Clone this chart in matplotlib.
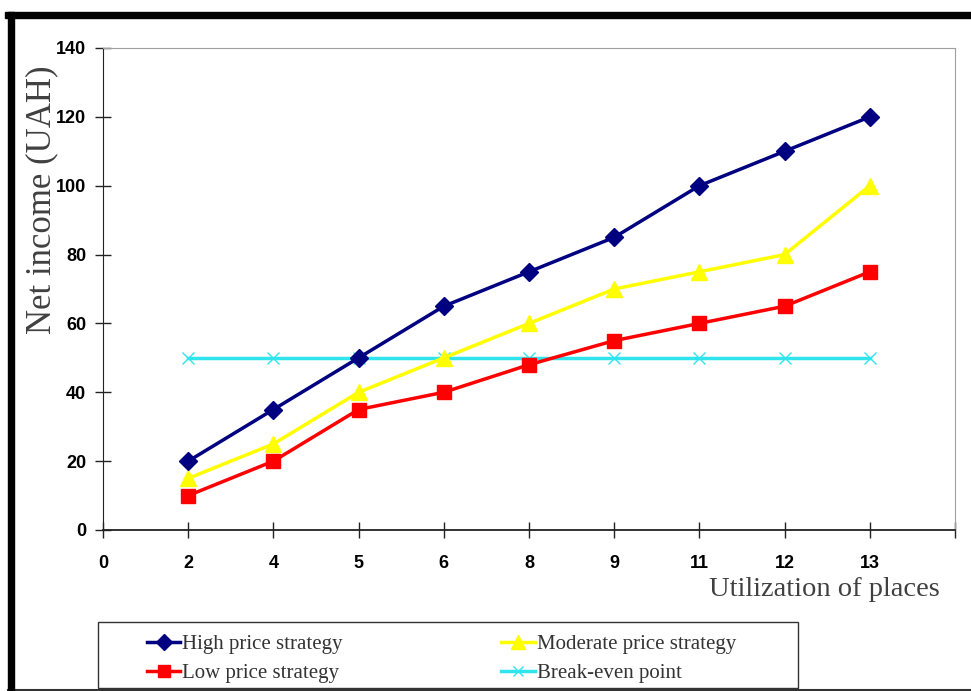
import numpy as np
import matplotlib
matplotlib.use("Agg")
import matplotlib.pyplot as plt
from matplotlib.lines import Line2D
from matplotlib.patches import Rectangle

# categories on the x axis (equally spaced, last slot empty)
x_labels = ["0", "2", "4", "5", "6", "8", "9", "11", "12", "13", ""]
places = ["2", "4", "5", "6", "8", "9", "11", "12", "13"]

high_price = [20, 35, 50, 65, 75, 85, 100, 110, 120]
moderate_price = [15, 25, 40, 50, 60, 70, 75, 80, 100]
low_price = [10, 20, 35, 40, 48, 55, 60, 65, 75]
break_even = [50, 50, 50, 50, 50, 50, 50, 50, 50]

tick_font = ["Liberation Sans Narrow", "Liberation Sans", "DejaVu Sans"]
serif_font = ["Liberation Serif", "DejaVu Serif"]

fig = plt.figure(figsize=(9.71, 6.91), dpi=100)
W, H = 971, 691
ax = fig.add_axes([103 / W, 1 - 530 / H, (955 - 103) / W, (530 - 48) / H])

pos = [x_labels.index(p) for p in places]

ax.plot(pos, high_price, color="#000080", lw=2.5, marker="D", ms=9,
        label="High price strategy", zorder=5)
ax.plot(pos, moderate_price, color="#FFFF00", lw=2.5, marker="^", ms=12,
        label="Moderate price strategy", zorder=4)
ax.plot(pos, low_price, color="#FF0000", lw=2.5, marker="s", ms=10,
        label="Low price strategy", zorder=4)
ax.plot(pos, break_even, color="#30E4EE", lw=2.5, marker="x", ms=9, mew=1,
        label="Break-even point", zorder=3)

ax.set_xlim(0, len(x_labels) - 1)
ax.set_ylim(0, 140)
ax.set_xticks(range(len(x_labels)))
ax.set_xticklabels(x_labels)
ax.set_yticks(np.arange(0, 141, 20))

for lab in ax.get_xticklabels() + ax.get_yticklabels():
    lab.set_family(tick_font)
    lab.set_fontweight("bold")
    lab.set_fontsize(13)

ax.tick_params(axis="both", direction="inout", length=12, width=1, color="#222222")
ax.tick_params(axis="x", pad=12)
ax.tick_params(axis="y", pad=6)

ax.spines["left"].set_color("#222222")
ax.spines["bottom"].set_color("#222222")
ax.spines["bottom"].set_linewidth(1.3)
ax.spines["top"].set_color("#a0a0a0")
ax.spines["right"].set_color("#a0a0a0")

fig.text(42 / W, 1 - 200 / H, "Net income (UAH)", rotation=90, ha="center",
         va="center", fontsize=25, color="#404040", family=serif_font)
fig.text(940 / W, 1 - 590 / H, "Utilization of places", ha="right",
         va="center", fontsize=20.5, color="#404040", family=serif_font)

# legend below the plot: box drawn apart, entries placed inside it
fig.patches.append(Rectangle((98 / W, 1 - 688 / H), (798 - 98) / W, (688 - 622) / H,
                             transform=fig.transFigure, fill=False,
                             edgecolor="#333333", lw=1.0, zorder=6))
handles, labels = ax.get_legend_handles_labels()
order = [0, 2, 1, 3]
leg = fig.legend([handles[i] for i in order], [labels[i] for i in order],
                 loc="center left", bbox_to_anchor=(147 / W, 1 - 659 / H),
                 ncol=2, frameon=False, prop={"family": serif_font, "size": 15},
                 handlelength=1.6, handletextpad=0.1, borderaxespad=0,
                 borderpad=0, labelspacing=0.45, columnspacing=7.6, markerscale=0.85)
for t in leg.get_texts():
    t.set_color("#333333")

# black frame round the picture
fig.patches.append(Rectangle((5 / W, 1 - 18 / H), 966 / W, 6 / H, transform=fig.transFigure,
                             color="black", zorder=10))
fig.patches.append(Rectangle((8 / W, 0), 6 / W, 1 - 12 / H, transform=fig.transFigure,
                             color="black", zorder=10))
fig.lines.append(Line2D([8 / W, 1], [1.5 / H, 1.5 / H], transform=fig.transFigure,
                        color="#333333", lw=1.5))

fig.savefig("out.png", dpi=100)
